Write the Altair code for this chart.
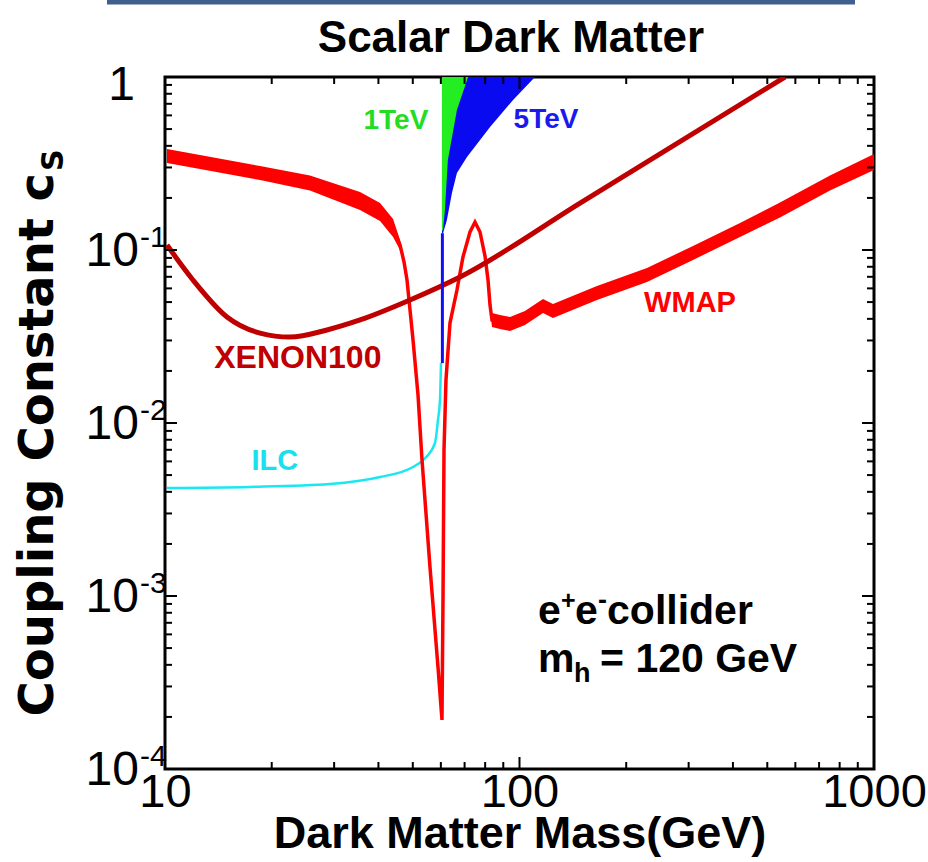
import altair as alt
import pandas as pd

FONT = "Liberation Sans, Arial, Helvetica, sans-serif"
W, H = 709, 692

# ---------------- data ----------------
# WMAP band: mass (GeV), lower / upper edge of coupling c_S
wmap_mass = [10.13, 12.55, 18.54, 25.64, 35.49, 40.42, 43.99, 46.03, 47.24, 48.16,
             50.08, 51.73, 53.09, 55.91, 58.89, 60.44, 60.84, 61.24, 62.03, 63.66,
             66.62, 69.27, 72.51, 74.90, 77.37, 79.93, 81.50, 82.57, 83.64, 88.10,
             94.01, 103.6, 116.5, 124.3, 165.4, 228.9, 308.6, 418.8, 543.0, 751.3, 1000]
wmap_lo = [0.3184, 0.2939, 0.2538, 0.2208, 0.1703, 0.1471, 0.1189, 0.1000, 0.0819, 0.0671,
           0.0302, 0.01451, 0.00611, 0.001471, 0.000389, 0.000192, 0.000948, 0.00698, 0.01773, 0.0378,
           0.0587, 0.0911, 0.1271, 0.1451, 0.1271, 0.0923, 0.0671, 0.0456, 0.0359, 0.0350,
           0.0340, 0.0368, 0.0432, 0.0404, 0.0514, 0.0653, 0.0876, 0.1189, 0.1541, 0.2208, 0.2900]
wmap_hi = [0.3836, 0.3540, 0.3058, 0.2695, 0.2165, 0.1869, 0.1511, 0.1142, 0.0887, 0.0671,
           0.0302, 0.01451, 0.00611, 0.001471, 0.000389, 0.000192, 0.000948, 0.00698, 0.01773, 0.0378,
           0.0587, 0.0911, 0.1271, 0.1451, 0.1271, 0.0923, 0.0671, 0.0507, 0.0432, 0.0421,
           0.0410, 0.0444, 0.0521, 0.0487, 0.0619, 0.0787, 0.1055, 0.1432, 0.1882, 0.2695, 0.3589]

# XENON100 limit
xenon_mass = [10.13, 11.99, 14.96, 18.54, 22.52, 28.64, 35.49, 49.11, 67.95, 148.2, 561.0]
xenon_c = [0.1069, 0.0671, 0.0410, 0.0331, 0.0314, 0.0345, 0.0394, 0.0514, 0.0698, 0.1869, 1.0]

# ILC reach
ilc_mass = [10.13, 17.37, 29.21, 40.42, 50.08, 53.44, 57.75, 58.89, 59.66, 60.05]
ilc_c = [0.00421, 0.00427, 0.00444, 0.00487, 0.00557, 0.00611, 0.00766, 0.01041, 0.01358, 0.0222]

# thin blue strip continuing above the ILC curve
strip_mass = [60.6, 60.6]
strip_c = [0.0222, 0.125]

# 1 TeV (green) and 5 TeV (blue) regions: left edge at threshold, right edge per coupling
region_left = 60.44
tev1_c = [0.130, 0.170, 0.331, 0.645, 1.0]
tev1_mass = [60.85, 61.6, 62.8, 66.6, 71.6]
tev5_c = [0.125, 0.149, 0.214, 0.279, 0.345, 0.514, 0.736, 1.0]
tev5_mass = [60.85, 62.4, 64.5, 66.6, 71.1, 82.6, 95.9, 110.6]

# axis ticks
x_major = [10, 100, 1000]
x_minor = [20, 30, 40, 50, 60, 70, 80, 90, 200, 300, 400, 500, 600, 700, 800, 900]
y_major = [1e-4, 1e-3, 1e-2, 1e-1, 1]
y_minor = [2e-4, 3e-4, 4e-4, 5e-4, 6e-4, 7e-4, 8e-4, 9e-4,
           2e-3, 3e-3, 4e-3, 5e-3, 6e-3, 7e-3, 8e-3, 9e-3,
           2e-2, 3e-2, 4e-2, 5e-2, 6e-2, 7e-2, 8e-2, 9e-2,
           0.2, 0.3, 0.4, 0.5, 0.6, 0.7, 0.8, 0.9]
y_label_val = [1e-1, 1e-2, 1e-3, 1e-4]
y_label_sup = ["-1", "-2", "-3", "-4"]

# annotations (in data coordinates)
ann_text = ["1TeV", "5TeV", "XENON100", "ILC", "WMAP"]
ann_mass = [44.8, 118.8, 23.7, 20.4, 302.7]
ann_c = [0.557, 0.565, 0.02375, 0.00603, 0.0494]
ann_color = ["#22dd22", "#1a1aee", "#c00000", "#19e0ee", "#ff0000"]
ann_size = [28, 28, 32, 29, 29]
note_mass = 112.8
note_c1 = 0.000808
note_c2 = 0.000427

# ---------------- scales / helpers ----------------
xs = alt.Scale(type="log", domain=[10, 1000], nice=False)
ys = alt.Scale(type="log", domain=[1e-4, 1], nice=False)
x_axis = alt.Axis(values=x_major, format="d", labelFont=FONT, labelFontSize=47,
                  labelColor="black", labelPadding=0, ticks=False, domain=False,
                  grid=False, labelFlush=False, labelOverlap=False,
                  title="Dark Matter Mass(GeV)", titleFont=FONT, titleFontSize=45,
                  titleFontWeight="bold", titleColor="black",
                  titleY=78, titleBaseline="alphabetic")
y_axis = alt.Axis(labels=False, ticks=False, domain=False, grid=False, title=None)


def X(f):
    return alt.X(f, type="quantitative", scale=xs, axis=x_axis)


def Y(f):
    return alt.Y(f, type="quantitative", scale=ys, axis=y_axis)


wmap = pd.DataFrame({"m": wmap_mass, "lo": wmap_lo, "hi": wmap_hi})
wmap["mid"] = (wmap["lo"] * wmap["hi"]) ** 0.5
xenon = pd.DataFrame({"m": xenon_mass, "c": xenon_c})
ilc = pd.DataFrame({"m": ilc_mass, "c": ilc_c})
strip = pd.DataFrame({"m": strip_mass, "c": strip_c})
g1 = pd.DataFrame({"c": tev1_c, "m2": tev1_mass, "m1": region_left})
g5 = pd.DataFrame({"c": tev5_c, "m2": tev5_mass, "m1": region_left})
ann = pd.DataFrame({"t": ann_text, "m": ann_mass, "c": ann_c, "col": ann_color, "s": ann_size})
one = pd.DataFrame({"a": [0]})

layers = []

layers.append(alt.Chart(g5).mark_area(orient="horizontal", color="#0a0af0", clip=True).encode(
    y=Y("c"), x=X("m1"), x2="m2"))
layers.append(alt.Chart(g1).mark_area(orient="horizontal", color="#22ee22", clip=True).encode(
    y=Y("c"), x=X("m1"), x2="m2"))
layers.append(alt.Chart(ilc).mark_line(color="#19e8f2", strokeWidth=2.5, interpolate="monotone",
                                       clip=True).encode(x=X("m"), y=Y("c")))
layers.append(alt.Chart(wmap).mark_area(color="#ff0000", clip=True).encode(
    x=X("m"), y=Y("lo"), y2="hi"))
layers.append(alt.Chart(wmap).mark_line(color="#ff0000", strokeWidth=3.5, clip=True).encode(
    x=X("m"), y=Y("mid")))
layers.append(alt.Chart(xenon).mark_line(color="#c00000", strokeWidth=5, interpolate="monotone",
                                         clip=True).encode(x=X("m"), y=Y("c")))
layers.append(alt.Chart(strip).mark_line(color="#1010f0", strokeWidth=3, clip=True).encode(
    x=X("m"), y=Y("c")))

# annotations
for i in range(len(ann_text)):
    layers.append(alt.Chart(ann.iloc[[i]]).mark_text(
        font=FONT, fontWeight="bold", fontSize=ann_size[i], color=ann_color[i],
        align="center", baseline="middle").encode(x=X("m"), y=Y("c"), text="t"))

note = pd.DataFrame({"m": [note_mass], "c1": [note_c1], "c2": [note_c2]})
pieces1 = [("e", 0, 41, 0), ("+", 23, 25, -15), ("e", 37, 41, 0), ("-", 60, 27, -15),
           ("collider", 69, 41, 0)]
for txt, dx, fs, dy in pieces1:
    layers.append(alt.Chart(note).mark_text(
        text=txt, font=FONT, fontWeight="bold", fontSize=fs, color="black",
        align="left", baseline="alphabetic", dx=dx, dy=dy + 12).encode(x=X("m"), y=Y("c1")))
pieces2 = [("m", 0, 41, 0), ("h", 36, 27, 10), ("= 120 GeV", 62, 41, 0)]
for txt, dx, fs, dy in pieces2:
    layers.append(alt.Chart(note).mark_text(
        text=txt, font=FONT, fontWeight="bold", fontSize=fs, color="black",
        align="left", baseline="alphabetic", dx=dx, dy=dy + 12).encode(x=X("m"), y=Y("c2")))


# ticks (inward, on all four sides)
def xticks(vals, ln):
    d = pd.DataFrame({"v": vals})
    b = alt.Chart(d).mark_rule(color="black", strokeWidth=2).encode(
        x=X("v"), y=alt.value(H), y2=alt.value(H - ln))
    t = alt.Chart(d).mark_rule(color="black", strokeWidth=2).encode(
        x=X("v"), y=alt.value(0), y2=alt.value(ln))
    return [b, t]


def yticks(vals, ln):
    d = pd.DataFrame({"v": vals})
    l = alt.Chart(d).mark_rule(color="black", strokeWidth=2).encode(
        y=Y("v"), x=alt.value(0), x2=alt.value(ln))
    r = alt.Chart(d).mark_rule(color="black", strokeWidth=2).encode(
        y=Y("v"), x=alt.value(W), x2=alt.value(W - ln))
    return [l, r]


layers += xticks(x_major, 12) + xticks(x_minor, 7) + yticks(y_major, 12) + yticks(y_minor, 7)

# y tick labels with superscripts
yl = pd.DataFrame({"v": y_label_val, "sup": y_label_sup, "base": ["10"] * 4})
layers.append(alt.Chart(yl).mark_text(font=FONT, fontSize=48, color="black", align="right",
                                      baseline="middle", dy=2).encode(
    x=alt.value(-26), y=Y("v"), text="base"))
layers.append(alt.Chart(yl).mark_text(font=FONT, fontSize=30, color="black", align="left",
                                      baseline="middle", dy=-12).encode(
    x=alt.value(-25), y=Y("v"), text="sup"))
layers.append(alt.Chart(pd.DataFrame({"v": [1.0], "base": ["1"]})).mark_text(
    font=FONT, fontSize=48, color="black", align="right", baseline="middle", dy=9).encode(
    x=alt.value(-30), y=Y("v"), text="base"))

# y axis title with subscript
YFONT = "DejaVu Sans, Liberation Sans, sans-serif"
layers.append(alt.Chart(one).mark_text(
    text="Coupling Constant c", font=YFONT, fontWeight="bold", fontSize=48, color="black",
    angle=270, align="right", baseline="alphabetic").encode(
    x=alt.value(-112), y=alt.value(96)))
layers.append(alt.Chart(one).mark_text(
    text="S", font=YFONT, fontWeight="bold", fontSize=30, color="black",
    angle=270, align="left", baseline="alphabetic", dx=2, dy=10).encode(
    x=alt.value(-112), y=alt.value(96)))

# chart title
layers.append(alt.Chart(one).mark_text(
    text="Scalar Dark Matter", font=FONT, fontWeight="bold", fontSize=44, color="black",
    align="center", baseline="alphabetic").encode(x=alt.value(346), y=alt.value(-25)))

# decorative slide frame line at the top
layers.append(alt.Chart(one).mark_rule(color="#3f5f8f", strokeWidth=5).encode(
    x=alt.value(-58), x2=alt.value(690), y=alt.value(-75)))

chart = alt.layer(*layers).properties(
    width=W, height=H,
    autosize=alt.AutoSizeParams(type="none"),
    padding={"left": 165, "top": 77, "right": 54, "bottom": 93},
    background="white",
).configure_view(stroke="black", strokeWidth=3)

chart.save("out.html", embed_options={"renderer": "svg", "actions": False})
